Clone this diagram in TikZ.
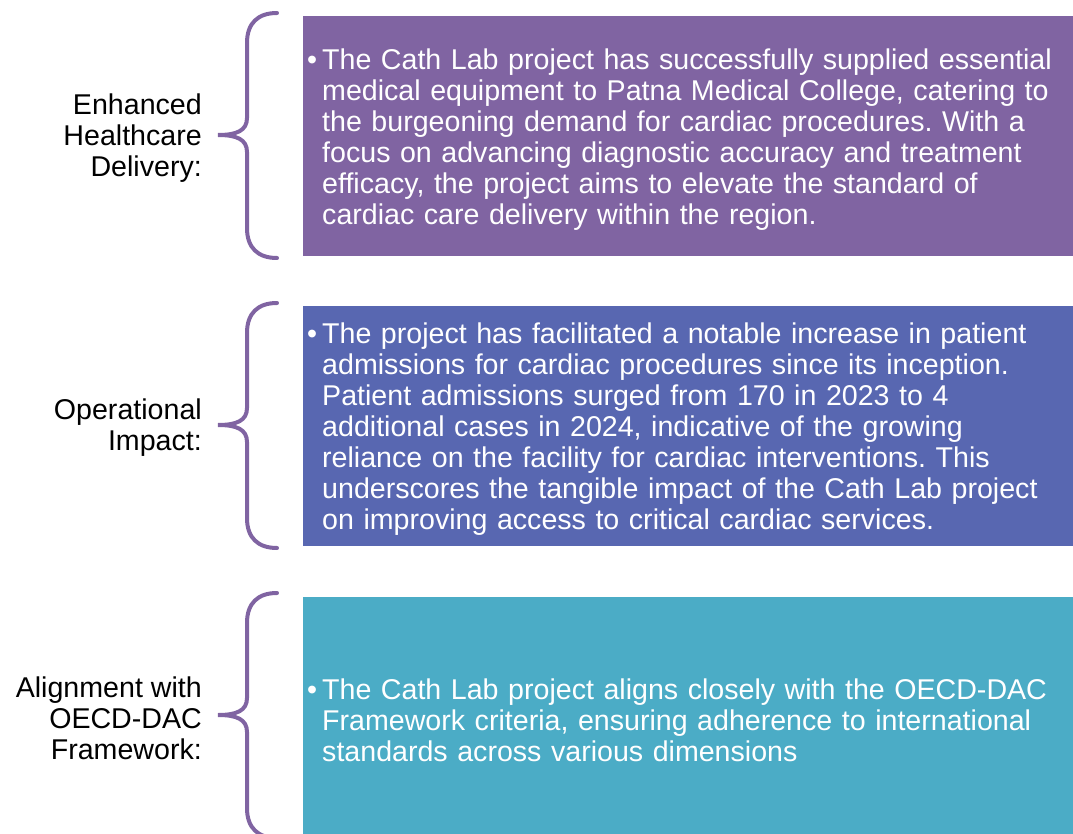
\documentclass[tikz,border=0pt]{standalone}
\usepackage{fontspec}
\setmainfont{Liberation Sans}
\frenchspacing
\usetikzlibrary{positioning}
\definecolor{braceviolet}{HTML}{8064A2}
\definecolor{boxviolet}{HTML}{8064A2}
\definecolor{boxblue}{HTML}{5867B1}
\definecolor{boxteal}{HTML}{4BACC6}
\newcommand{\bulletpar}[1]{\hangindent=15pt\hangafter=1\noindent\makebox[15pt][l]{\textbullet}#1\par\vspace*{-6pt}}
\tikzset{
  infobox/.style={anchor=north west, minimum width=769pt, minimum height=240pt,
    text width=764pt, inner xsep=4pt, inner ysep=0pt, align=left, text=white,
    font=\fontsize{28.6}{31}\selectfont},
  bracelab/.style={align=right, inner sep=0pt, yshift=-3pt, font=\fontsize{28.6}{31}\selectfont},
  bracepath/.style={braceviolet, line width=4pt, line cap=round}
}
\begin{document}
\begin{tikzpicture}[x=1pt,y=-1pt]
  \useasboundingbox (0,0) rectangle (1073,834);
  \clip (0,0) rectangle (1073,834);
  % Geschweifte Klammern
  \foreach \yt/\n in {13/1, 303/2, 593/3} {
    \begin{scope}[shift={(0,\yt)}]
      \draw[bracepath] (277,0) .. controls (258,0) and (247,10) .. (247,30) -- (247,105)
        .. controls (247,118) and (236,122) .. (218,122)
        .. controls (236,122) and (247,126) .. (247,139) -- (247,215)
        .. controls (247,235) and (258,245) .. (277,245);
      \coordinate (tip\n) at (218,122);
    \end{scope}
  }
  % Kaesten
  \node[infobox, fill=boxviolet] (box1) at (303,16) {\bulletpar{The Cath Lab project has successfully supplied essential\newline
    medical equipment to Patna Medical College, catering to\newline
    the burgeoning demand for cardiac procedures. With a\newline
    focus on advancing diagnostic accuracy and treatment\newline
    efficacy, the project aims to elevate the standard of\newline
    cardiac care delivery within the region.}};
  \node[infobox, fill=boxblue] (box2) at (303,306) {\bulletpar{The project has facilitated a notable increase in patient\newline
    admissions for cardiac procedures since its inception.\newline
    Patient admissions surged from 170 in 2023 to 4\newline
    additional cases in 2024, indicative of the growing\newline
    reliance on the facility for cardiac interventions. This\newline
    underscores the tangible impact of the Cath Lab project\newline
    on improving access to critical cardiac services.}};
  \node[infobox, fill=boxteal] (box3) at (303,597) {\bulletpar{The Cath Lab project aligns closely with the OECD-DAC\newline
    Framework criteria, ensuring adherence to international\newline
    standards across various dimensions}};
  % Beschriftungen
  \node[bracelab, left=16pt of tip1] (lab1) {Enhanced\\Healthcare\\Delivery:};
  \node[bracelab, left=16pt of tip2] (lab2) {Operational\\Impact:};
  \node[bracelab, left=16pt of tip3] (lab3) {Alignment with\\OECD-DAC\\Framework:};
\end{tikzpicture}
\end{document}
